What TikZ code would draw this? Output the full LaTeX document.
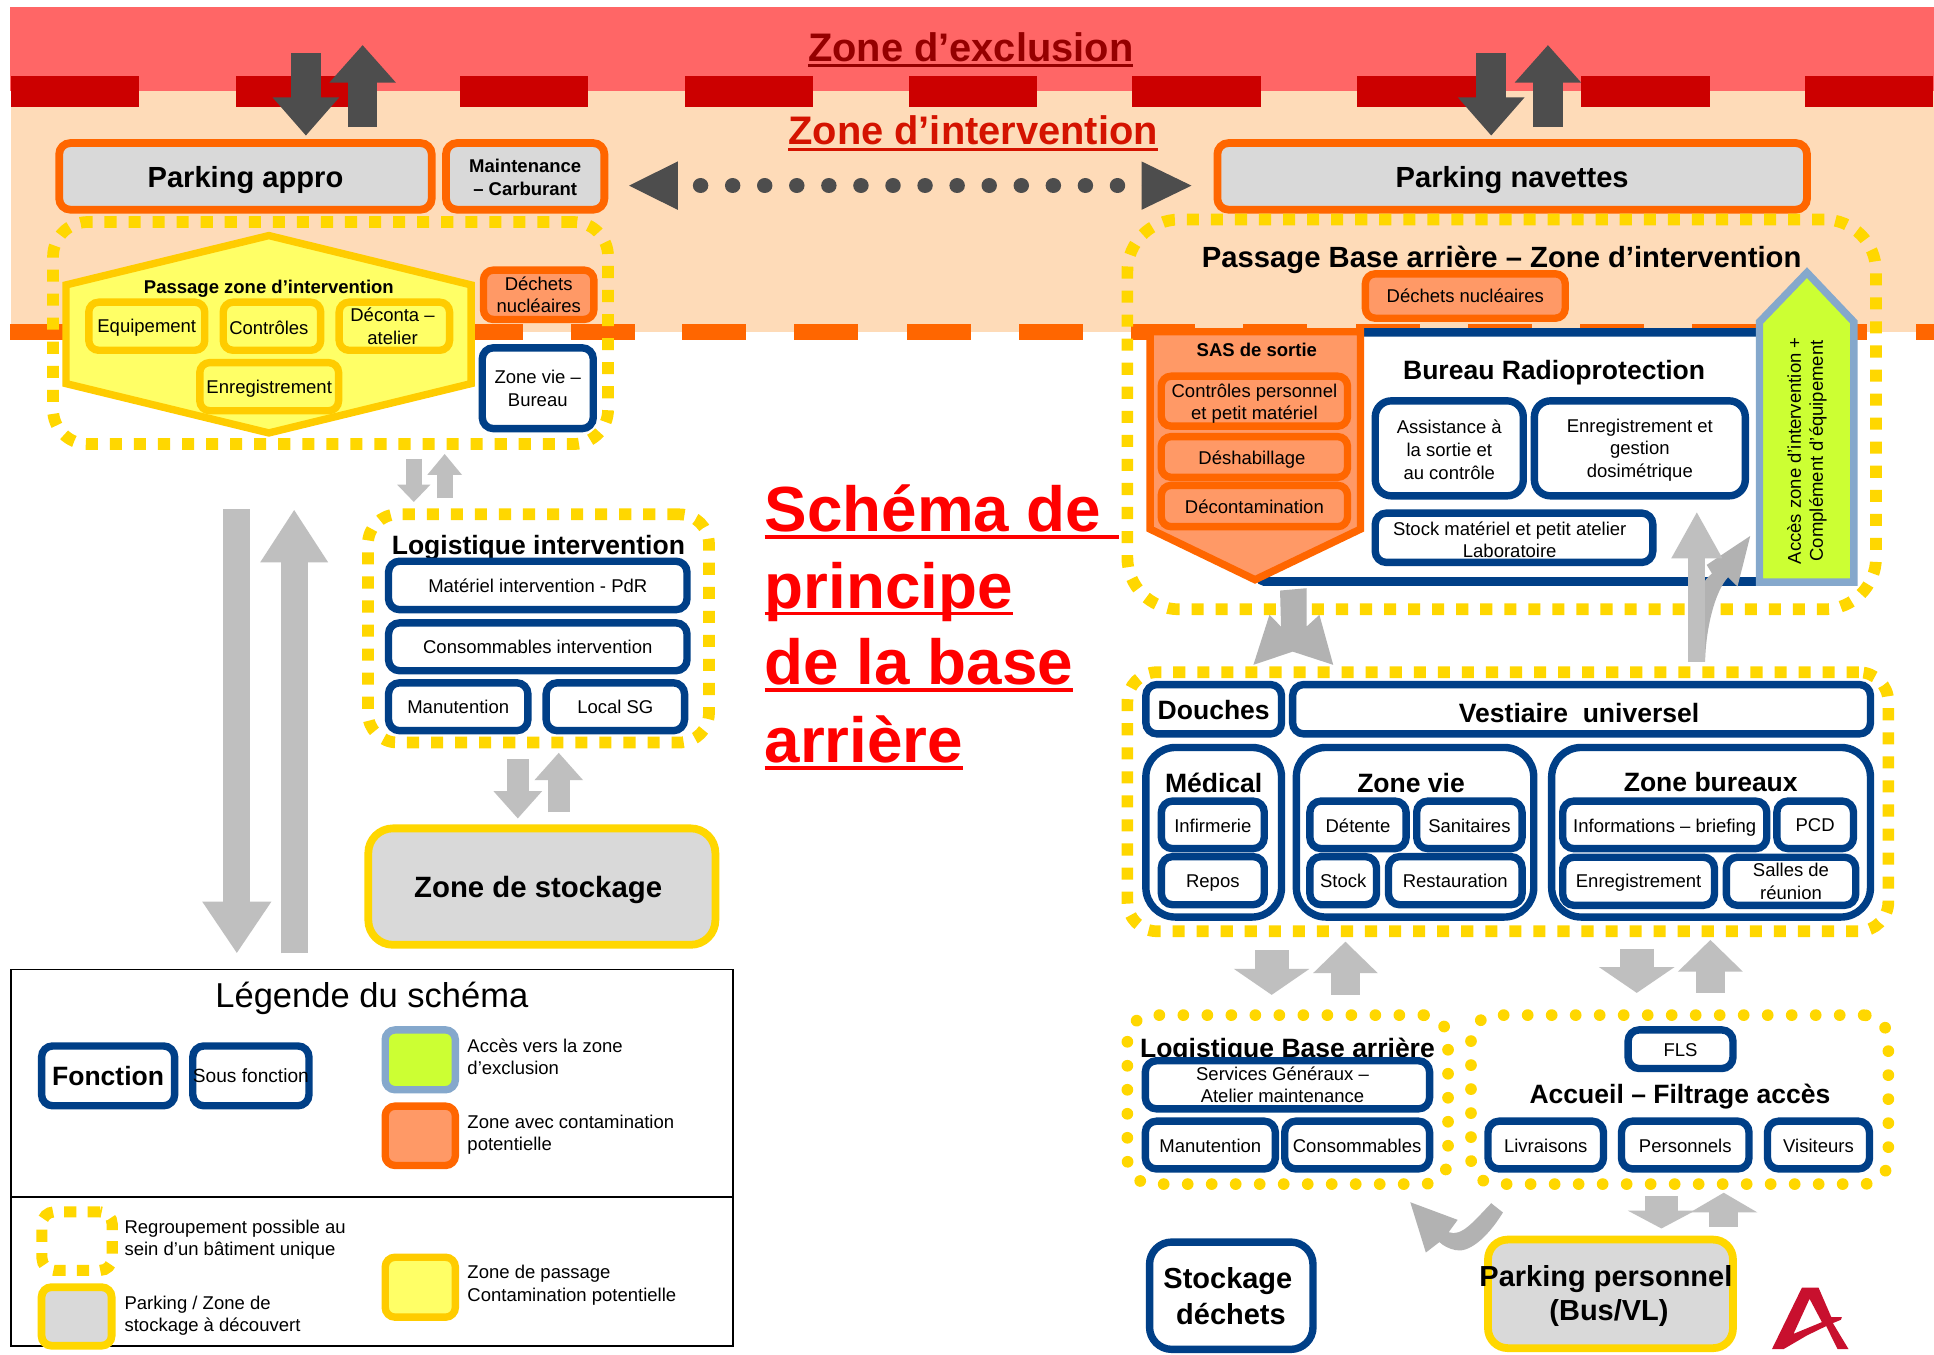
\documentclass[tikz,border=0pt]{standalone}
\usepackage{fontspec}
\setmainfont{Liberation Sans}
\usetikzlibrary{arrows.meta}
\definecolor{cnavy}{HTML}{003F87}
\definecolor{corange}{HTML}{FF6600}
\definecolor{cosalmon}{HTML}{FF9966}
\definecolor{cgold}{HTML}{FFD700}
\definecolor{camber}{HTML}{FFCC00}
\definecolor{cyellow}{HTML}{FFFF66}
\definecolor{cgrey}{HTML}{D9D9D9}
\definecolor{cdark}{HTML}{4D4D4D}
\definecolor{clight}{HTML}{BFBFBF}
\definecolor{cmid}{HTML}{B2B2B2}
\definecolor{cred}{HTML}{FF6666}
\definecolor{cdred}{HTML}{CC0000}
\definecolor{cpeach}{HTML}{FEDBB8}
\definecolor{cblue}{HTML}{85A8CC}
\definecolor{clime}{HTML}{CCFF33}
\definecolor{clogo}{HTML}{C8102E}
\newlength\ulw
\newcommand\ulx[3]{\settowidth\ulw{#3}\rlap{\smash{\rule[-#1pt]{\ulw}{#2pt}}}#3}
\newcommand\bx[7]{\node[#1,minimum width={(#4-#2)*1pt},minimum height={(#5-#3)*1pt}] (#7) at ({(#2+#4)/2},{(#3+#5)/2}) {#6};}
% text placed at an offset from the centre of a box
\newcommand\tx[5]{\node[lbl,#1] (#2T) at ([shift={(#3,#4)}]#2.center) {#5};}
\newcommand\arrV[8]{\coordinate (#8a) at (#2,#5);\coordinate (#8b) at (#2,#6);
  \draw[#1,line width=#3pt,-{Triangle[length=#7pt,width=#4pt]}] (#8a) -- (#8b);}
\tikzset{
  bxbase/.style={inner sep=0pt,outer sep=0pt,align=center},
  blu/.style={bxbase,draw=cnavy,fill=white,line width=6pt,rounded corners=9pt},
  org/.style={bxbase,draw=corange,fill=cosalmon,line width=6pt,rounded corners=8pt},
  amb/.style={bxbase,draw=camber,fill=cyellow,line width=6pt,rounded corners=8pt},
  pkorg/.style={bxbase,draw=corange,fill=cgrey,line width=6.3pt,rounded corners=9pt},
  pkgold/.style={bxbase,draw=cgold,fill=cgrey,line width=6.3pt,rounded corners=16pt},
  sqdots/.style={bxbase,draw=cgold,line width=9.5pt,dash pattern=on 9.8pt off 9.7pt},
  rddots/.style={bxbase,draw=cgold,line width=9.5pt,line cap=round,dash pattern=on 0.01pt off 19.45pt,rounded corners=20pt},
  lbl/.style={inner sep=0pt,outer sep=0pt,align=center},
  legtxt/.style={lbl,anchor=west,font=\fontsize{15}{18}\selectfont,align=left},
  tf/.style={font=\fontsize{15}{18.4}\selectfont},
  tfb/.style={font=\fontsize{15}{18.4}\selectfont\bfseries},
  tm/.style={font=\fontsize{21.5}{26}\selectfont\bfseries},
  tl/.style={font=\fontsize{23.7}{29}\selectfont\bfseries},
}
\begin{document}
\begin{tikzpicture}[x=1pt,y=-1pt]
\useasboundingbox (0,0) rectangle (1568,1097.8);
\fill[white] (0,0) rectangle (1568,1097.8);
% zones
\fill[cred] (8,6) rectangle (1568,74);
\fill[cpeach] (9,74) rectangle (1568,269);
\foreach \a in {9,191,373,555,737,918,1100,1282,1463}
  \fill[cdred] (\a,61.6) rectangle ({min(\a+104,1568)},87);
\foreach \a in {8,99,190,281,372,463,553,644,735,826,917,1008,1099,1190,1281,1372,1462,1553}
  \fill[corange] (\a,263) rectangle ({min(\a+52,1568)},275.5);
\node[lbl,font=\fontsize{32.3}{38}\selectfont\bfseries,text=black!35!red!90!black] (exclu) at (787,38) {\ulx{4.5}{2.4}{Zone d’exclusion}};
\node[lbl,font=\fontsize{32.3}{38}\selectfont\bfseries,text=red!80!black!85!orange] (interv) at (789,106) {\ulx{4.5}{2.4}{Zone d’intervention}};
% top left
\bx{pkorg}{48}{116}{350}{170}{}{pappro}
\tx{font=\fontsize{23.6}{28}\selectfont\bfseries}{pappro}{0}{3}{Parking appro}
\bx{pkorg}{361.6}{116}{490}{170}{}{maint}
\tx{tfb}{maint}{0}{1}{Maintenance\\– Carburant}
\bx{pkorg}{987}{116}{1465}{170}{}{pnav}
\tx{font=\fontsize{23.6}{28}\selectfont\bfseries}{pnav}{0}{3}{Parking navettes}
\arrV{cdark}{248}{24}{52}{43}{110}{31}{aA}
\arrV{cdark}{294}{24}{52}{103}{36.5}{30.5}{aB}
\arrV{cdark}{1209}{24}{52}{43}{110}{31}{aC}
\arrV{cdark}{1255}{24}{52}{103}{36.5}{30.5}{aD}
% dotted link
\coordinate (hLa) at (549.5,150.5);\coordinate (hLb) at (510,150.5);
\coordinate (hRa) at (925.5,150.5);\coordinate (hRb) at (966,150.5);
\coordinate (dL) at (568,150.5);\coordinate (dR) at (906.1,150.5);
\draw[cdark,line width=12.5pt,line cap=round,dash pattern=on 0.01pt off 25.99pt] (dL) -- (dR);
\draw[cdark,line width=1pt,-{Triangle[length=39.5pt,width=39pt]}] (hLa) -- (hLb);
\draw[cdark,line width=1pt,-{Triangle[length=40.5pt,width=39pt]}] (hRa) -- (hRb);
% passage zone d'intervention
\bx{sqdots,rounded corners=28pt}{43}{180}{493}{360}{}{grpA}
\draw[draw=camber,fill=cyellow,line width=6pt] (218,191) -- (382,231) -- (382,311) -- (218,351) -- (53.5,311) -- (53.5,231) -- cycle;
\node[lbl,tfb] (passT) at (218,234) {Passage zone d’intervention};
\bx{amb}{72}{245}{166}{284}{}{equip}
\tx{tf}{equip}{0}{1.5}{Equipement}
\bx{amb}{181}{245}{260}{284}{}{ctrl}
\tx{tf}{ctrl}{-2.5}{1}{Contrôles}
\bx{amb}{275}{245}{364.5}{284}{}{decon}
\tx{tf}{decon}{-1.5}{0}{Déconta –\\atelier}
\bx{amb}{162}{294}{274.5}{333}{}{enreA}
\tx{tf}{enreA}{0}{1.5}{Enregistrement}
\bx{org,tf}{392}{219}{481.5}{259}{Déchets\\nucléaires}{dechA}
\bx{blu,tf}{391}{282}{481}{347.5}{Zone vie –\\Bureau}{zvieA}
\arrV{clight}{335.5}{13}{26}{372}{407}{14}{aE}
\arrV{clight}{360.5}{13}{27}{404}{368}{17}{aF}
% big arrows
\arrV{clight}{192}{22}{53}{413}{773}{42}{aG}
\arrV{clight}{238.5}{22}{52}{773}{413}{43}{aH}
% logistique intervention
\bx{sqdots,rounded corners=24pt}{298.3}{417}{574.8}{602}{}{grpB}
\node[lbl,tm] (logiT) at (436.5,444) {Logistique intervention};
\bx{blu,tf}{315}{455}{557}{494.3}{Matériel intervention - PdR}{mater}
\bx{blu,tf}{315}{505}{557}{543.8}{Consommables intervention}{conso}
\bx{blu,tf}{315}{553.6}{428}{592.4}{Manutention}{manuA}
\bx{blu,tf}{442.8}{553.6}{555}{592.4}{Local SG}{local}
\arrV{clight}{419.8}{18}{38}{615.7}{663.6}{22.2}{aI}
\arrV{clight}{453}{18}{38}{658.7}{610.3}{22.2}{aJ}
\bx{pkgold,rounded corners=20pt}{298.6}{671.6}{580}{766}{}{zstock}
\tx{font=\fontsize{23.8}{28}\selectfont\bfseries}{zstock}{-3}{2.5}{Zone de stockage}
% legend
\draw[black,line width=1.5pt] (8.6,786) rectangle (594,1091.4);
\coordinate (lgA) at (8.6,970.3);\coordinate (lgB) at (594,970.3);
\draw[black,line width=1.5pt] (lgA) -- (lgB);
\node[lbl,font=\fontsize{28}{32}\selectfont] (legT) at (301.5,809.5) {Légende du schéma};
\bx{blu,font=\fontsize{21.5}{26}\selectfont\bfseries}{33.7}{848}{141.6}{896.5}{Fonction}{lgF}
\bx{blu,font=\fontsize{15.5}{18}\selectfont}{156.3}{848}{250.5}{896.5}{Sous fonction}{lgS}
\bx{bxbase,draw=cblue,fill=clime,line width=6pt,rounded corners=8pt}{312.3}{835}{369.2}{883.5}{}{lgG}
\bx{org}{312.3}{896.8}{369.2}{944.9}{}{lgO}
\bx{amb}{312.3}{1019.3}{369.2}{1067.9}{}{lgY}
\bx{pkgold,rounded corners=8pt}{33.7}{1043.6}{90.5}{1091}{}{lgP}
\bx{sqdots,line width=9pt,dash pattern=on 10pt off 9pt,rounded corners=10pt}{34}{982.5}{91}{1030}{}{lgD}
\node[legtxt] (lgt1) at (379,857) {Accès vers la zone\\d’exclusion};
\node[legtxt] (lgt2) at (379,920) {Zone avec contamination\\potentielle};
\node[legtxt] (lgt3) at (101,1005) {Regroupement possible au\\sein d’un bâtiment unique};
\node[legtxt] (lgt4) at (101,1066.5) {Parking / Zone de\\stockage à découvert};
\node[legtxt] (lgt5) at (379,1042) {Zone de passage\\Contamination potentielle};
% central title
\node[lbl,anchor=base west,font=\fontsize{51.7}{60}\selectfont\bfseries,text=red] (sc1) at (620,431) {\ulx{6}{3}{Schéma de\ }};
\node[lbl,anchor=base west,font=\fontsize{51.7}{60}\selectfont\bfseries,text=red] (sc2) at (620,493) {\ulx{6}{3}{principe}};
\node[lbl,anchor=base west,font=\fontsize{51.7}{60}\selectfont\bfseries,text=red] (sc3) at (620,555) {\ulx{6}{3}{de la base}};
\node[lbl,anchor=base west,font=\fontsize{51.7}{60}\selectfont\bfseries,text=red] (sc4) at (620,618) {\ulx{6}{3}{arrière}};
% passage base arriere
\bx{sqdots,rounded corners=42pt}{914}{178}{1521}{494}{}{grpC}
\node[lbl,tl] (passB) at (1217.5,211) {Passage Base arrière – Zone d’intervention};
\bx{org,tf}{1107}{222}{1269}{258}{Déchets nucléaires}{dechB}
\bx{blu,line width=7pt,rounded corners=3pt}{1022}{269.5}{1430}{471.5}{}{bureau}
\draw[draw=corange,fill=cosalmon,line width=6pt] (932.5,269) -- (1103,269) -- (1103,429) -- (1017.5,470) -- (932.5,429) -- cycle;
\node[lbl,tfb] (sasT) at (1019,283.5) {SAS de sortie};
\bx{org}{941.5}{305}{1092.5}{345.5}{}{ctrlB}
\tx{tf}{ctrlB}{0}{2}{Contrôles personnel\\et petit matériel}
\bx{org}{941.5}{354}{1092.5}{387}{}{desha}
\tx{tf}{desha}{-2}{2}{Déshabillage}
\bx{org}{941.5}{393.5}{1092.5}{427}{}{decoB}
\tx{tf}{decoB}{0}{1}{Décontamination}
\node[lbl,tm] (burT) at (1260,302.5) {Bureau Radioprotection};
\bx{blu,rounded corners=13pt}{1115}{325}{1235}{402}{}{assis}
\tx{tf}{assis}{0}{1}{Assistance à\\la sortie et\\au contrôle}
\bx{blu,rounded corners=13pt}{1244}{325}{1415}{402}{}{enreB}
\tx{tf}{enreB}{0}{1.5}{Enregistrement et\\gestion\\dosimétrique}
\bx{blu}{1115}{416}{1340}{456}{}{stockB}
\tx{tf}{stockB}{-3.5}{1.5}{Stock matériel et petit atelier\\Laboratoire}
\draw[draw=cblue,fill=clime,line width=6pt] (1426.5,472) -- (1426.5,261) -- (1465,221) -- (1503,261) -- (1503,472) -- cycle;
\node[lbl,rotate=90,font=\fontsize{15}{18}\selectfont] (accT) at (1465,365.5) {Accès zone d’intervention +\\Complément d’équipement};
% arrows near bureau
\fill[cmid] (1037.8,478.8) -- (1059.3,476.9) -- (1059.3,508) -- (1069.7,498.5) -- (1080.9,539) -- (1048.1,528.3) -- (1016.2,539) -- (1029.2,498.5) -- (1038.6,508) -- cycle;
\fill[cmid] (1368.6,536.4) .. controls (1369,500) and (1375,475) .. (1388,465) -- (1383.7,458) -- (1419,434.5) -- (1408.7,475.5) -- (1401,468) .. controls (1390,480) and (1383,510) .. (1382.4,536.4) -- cycle;
\arrV{clight}{1375.7}{13.8}{38.5}{536.4}{414.7}{38}{aK}
% vestiaires group
\bx{sqdots,rounded corners=24pt}{914}{545}{1531}{755}{}{grpD}
\bx{blu}{929}{555}{1039}{595}{}{douch}
\tx{tm}{douch}{0}{1}{Douches}
\bx{blu}{1048}{555}{1516.5}{595}{}{vest}
\tx{tm}{vest}{-2}{3}{Vestiaire\ \ universel}
\bx{blu,rounded corners=24pt}{929}{606}{1039}{743.5}{}{medi}
\bx{blu,rounded corners=24pt}{1051}{606}{1243.5}{743.5}{}{zvieB}
\bx{blu,rounded corners=24pt}{1258}{606}{1516.5}{743.5}{}{zbur}
\node[lbl,tm] (mediT) at (984,634.5) {Médical};
\node[lbl,tm] (zvieT) at (1144,634.5) {Zone vie};
\node[lbl,tm] (zburT) at (1387,634) {Zone bureaux};
\bx{blu}{941.6}{649.5}{1025}{688}{}{infi}
\tx{tf}{infi}{0}{0.5}{Infirmerie}
\bx{blu}{941.6}{694.5}{1025}{733.5}{}{repos}
\tx{tf}{repos}{0}{2}{Repos}
\bx{blu}{1062}{649.5}{1140}{688}{}{deten}
\tx{tf}{deten}{0}{0.5}{Détente}
\bx{blu}{1148.6}{649.5}{1234}{688}{}{sanit}
\tx{tf}{sanit}{0}{0.5}{Sanitaires}
\bx{blu}{1062}{694.5}{1116}{733.5}{}{stockC}
\tx{tf}{stockC}{0}{0.5}{Stock}
\bx{blu}{1125.7}{694.5}{1234}{733.5}{}{resta}
\tx{tf}{resta}{0}{0.5}{Restauration}
\bx{blu}{1267}{649.5}{1432.4}{688}{}{infos}
\tx{tf}{infos}{0}{2.5}{Informations – briefing}
\bx{blu,tf}{1440.6}{649.5}{1502.7}{688}{PCD}{pcd}
\bx{blu}{1267}{695}{1390}{734}{}{enreC}
\tx{tf}{enreC}{0}{1}{Enregistrement}
\bx{blu,tf}{1399.6}{695}{1504.5}{734}{Salles de\\réunion}{salle}
\arrV{clight}{1031}{27.7}{60.3}{770.6}{806.6}{21.1}{aL}
\arrV{clight}{1090.8}{24.2}{51}{806.6}{763.4}{25.6}{aM}
\arrV{clight}{1327}{28}{60.4}{769.3}{805}{21}{aN}
\arrV{clight}{1386.7}{23}{51}{805}{762}{25.7}{aO}
% logistique base arriere + accueil
\bx{rddots}{914}{823}{1174}{960}{}{grpE}
\bx{rddots}{1192.6}{823}{1531}{960}{}{grpF}
\node[lbl,tm] (logbT) at (1043.8,851.5) {Logistique Base arrière};
\bx{blu}{928.6}{860}{1159}{899}{}{servi}
\tx{tf}{servi}{-4}{0}{Services Généraux –\\Atelier maintenance}
\bx{blu}{928.6}{909}{1034}{947.7}{}{manuB}
\tx{tf}{manuB}{0}{1}{Manutention}
\bx{blu}{1041.6}{909}{1159}{947.7}{}{consB}
\tx{tf}{consB}{0}{1}{Consommables}
\bx{blu}{1320}{835}{1405}{866.3}{}{fls}
\tx{tf}{fls}{0}{1}{FLS}
\node[lbl,tm] (accuT) at (1362,889) {Accueil – Filtrage accès};
\bx{blu}{1206.4}{909}{1300}{947.7}{}{livr}
\tx{tf}{livr}{0}{1}{Livraisons}
\bx{blu}{1314.6}{909}{1418}{947.7}{}{perso}
\tx{tf}{perso}{0}{1}{Personnels}
\bx{blu}{1433}{909}{1515.7}{947.7}{}{visit}
\tx{tf}{visit}{0}{1}{Visiteurs}
\fill[cmid] (1143.4,974.7) -- (1181.8,989) -- (1174.5,999) .. controls (1185,1003) and (1195,990) .. (1209,975.5) -- (1218.5,983) .. controls (1205,1005) and (1190,1016) .. (1180,1013.5) .. controls (1175,1012.5) and (1170,1010) .. (1167,1007) -- (1156,1015.5) -- cycle;
\arrV{clight}{1347}{27}{54}{970}{996}{14.5}{aP}
\arrV{clight}{1397.5}{23.6}{54}{994.5}{967}{16}{aQ}
% bottom
\bx{blu,rounded corners=18pt}{932}{1007}{1064.5}{1094}{}{stockD}
\node[lbl,font=\fontsize{23.5}{28}\selectfont\bfseries] (stdT1) at (995.5,1038.5) {Stockage};
\node[lbl,font=\fontsize{23.5}{28}\selectfont\bfseries] (stdT2) at (998,1065.5) {déchets};
\bx{pkgold}{1206.4}{1005}{1405}{1093}{}{ppers}
\node[lbl,font=\fontsize{23.5}{29}\selectfont\bfseries] (pperT1) at (1302,1037) {Parking personnel};
\node[lbl,font=\fontsize{23.5}{29}\selectfont\bfseries] (pperT2) at (1304.5,1064.5) {(Bus/VL)};
\fill[clogo,even odd rule] (1436.6,1093.8) -- (1460.9,1044) -- (1474.4,1044) -- (1484.7,1067.8) -- (1493.3,1067.8) -- (1492.5,1070) -- (1486,1072.7) -- (1498.7,1093.8) -- (1489.8,1093.8) -- (1480.6,1075.1) -- (1465,1082.7) -- (1446,1093.8) -- cycle
  (1467.1,1053) -- (1454.1,1081.4) -- (1477.1,1071.9) -- cycle;
\end{tikzpicture}
\end{document}
